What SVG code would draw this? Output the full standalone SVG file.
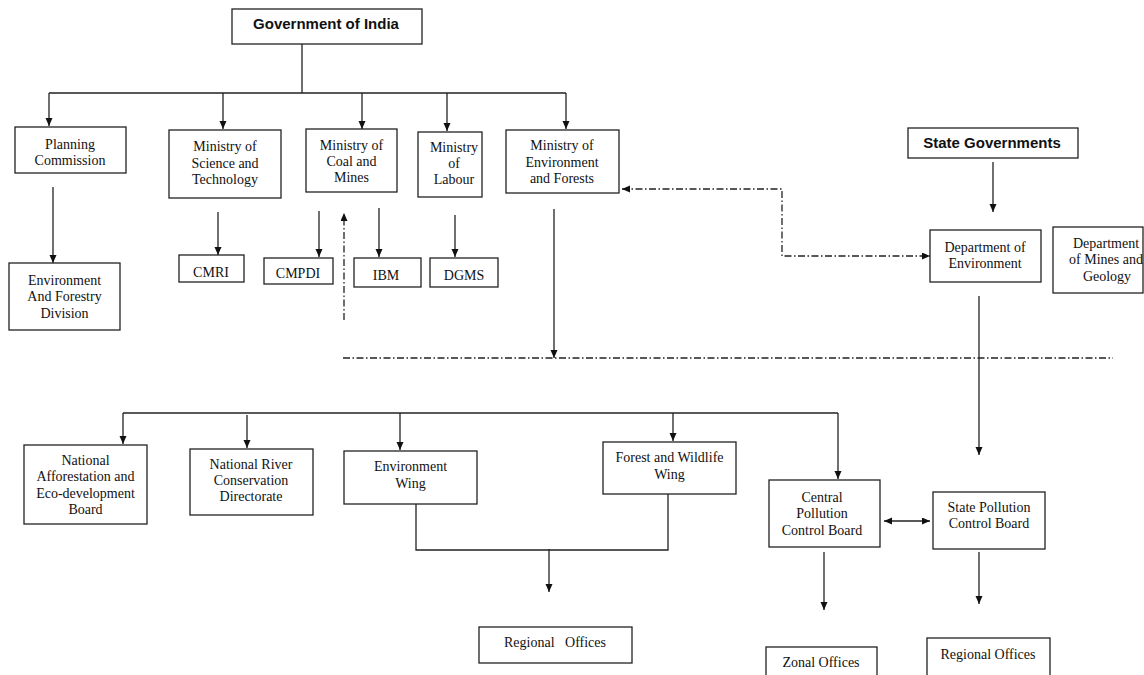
<svg xmlns="http://www.w3.org/2000/svg" width="1144" height="675" viewBox="0 0 1144 675">
<style>
.box{fill:#fff;stroke:#222;stroke-width:1.3}
.t{font-family:"Liberation Serif","Times New Roman",serif;font-size:14px;fill:#111;text-anchor:middle}
.b{font-family:"Liberation Sans",Arial,sans-serif;font-size:15px;font-weight:bold;fill:#111;text-anchor:middle}
.c{fill:none;stroke:#222;stroke-width:1.3}
.a{marker-end:url(#ah)}
.dd{stroke-dasharray:7 2.5 1.5 2.5}
</style>
<defs>
<marker id="ah" markerUnits="userSpaceOnUse" markerWidth="9" markerHeight="8" refX="8" refY="3.5" orient="auto-start-reverse">
<path d="M0,0 L8,3.5 L0,7 z" fill="#111"/>
</marker>
</defs>
<rect width="1144" height="675" fill="#fff"/>
<g id="connectors">
<path class="c" d="M302,44 V93 M49,93 H566"/>
<path class="c a" d="M49,93 V126"/>
<path class="c a" d="M223,93 V129"/>
<path class="c a" d="M362,93 V129"/>
<path class="c a" d="M447,93 V131"/>
<path class="c a" d="M566,93 V129"/>
<path class="c a" d="M53,187 V263"/>
<path class="c a" d="M218,212 V255"/>
<path class="c a" d="M319,211 V257"/>
<path class="c a dd" d="M344,320 V213"/>
<path class="c a" d="M379,208 V257"/>
<path class="c a" d="M455,215 V257"/>
<path class="c a" d="M554,209 V358"/>
<path class="c dd" d="M343,358 H1113"/>
<path class="c a dd" d="M622,189 H782 V256 H930" marker-start="url(#ah)"/>
<path class="c a" d="M993,162 V212"/>
<path class="c a" d="M979,296 V455"/>
<path class="c" d="M123,413 H838"/>
<path class="c a" d="M123,413 V444"/>
<path class="c a" d="M838,413 V479"/>
<path class="c a" d="M247,415 V448"/>
<path class="c a" d="M400,413 V450"/>
<path class="c a" d="M673,413 V441"/>
<path class="c" d="M416,504 V550 H668 V494"/>
<path class="c a" d="M549,549 V592"/>
<path class="c a" d="M824,552 V610"/>
<path class="c a" d="M884,521 H930" marker-start="url(#ah)"/>
<path class="c a" d="M979,552 V604"/>
</g>
<g id="gov-india"><rect class="box" x="232" y="9" width="190" height="35"/><text class="b" x="326" y="28.5">Government of India</text></g>
<g id="planning"><rect class="box" x="15" y="127" width="111" height="46"/><text class="t" x="70" y="149">Planning</text><text class="t" x="70" y="165">Commission</text></g>
<g id="science"><rect class="box" x="169" y="130" width="112" height="68"/><text class="t" x="225" y="151">Ministry of</text><text class="t" x="225" y="168">Science and</text><text class="t" x="225" y="184">Technology</text></g>
<g id="coal"><rect class="box" x="306" y="129" width="91" height="63"/><text class="t" x="351.5" y="150">Ministry of</text><text class="t" x="351.5" y="166">Coal and</text><text class="t" x="351.5" y="182">Mines</text></g>
<g id="labour"><rect class="box" x="418" y="132" width="64" height="65"/><text class="t" x="454" y="152">Ministry</text><text class="t" x="454" y="168">of</text><text class="t" x="454" y="184">Labour</text></g>
<g id="moef"><rect class="box" x="506" y="130" width="113" height="63"/><text class="t" x="562" y="150">Ministry of</text><text class="t" x="562" y="167">Environment</text><text class="t" x="562" y="183">and Forests</text></g>
<g id="efd"><rect class="box" x="9" y="263" width="111" height="67"/><text class="t" x="64.5" y="285">Environment</text><text class="t" x="64.5" y="301">And Forestry</text><text class="t" x="64.5" y="318">Division</text></g>
<g id="cmri"><rect class="box" x="179" y="255" width="65" height="27"/><text class="t" x="211" y="277">CMRI</text></g>
<g id="cmpdi"><rect class="box" x="264" y="258" width="69" height="26"/><text class="t" x="298" y="278">CMPDI</text></g>
<g id="ibm"><rect class="box" x="354" y="258" width="67" height="29"/><text class="t" x="386" y="280">IBM</text></g>
<g id="dgms"><rect class="box" x="430" y="258" width="68" height="29"/><text class="t" x="464" y="280">DGMS</text></g>
<g id="state-gov"><rect class="box" x="908" y="128" width="170" height="30"/><text class="b" x="992" y="148">State Governments</text></g>
<g id="dept-env"><rect class="box" x="930" y="230" width="111" height="52"/><text class="t" x="985" y="252">Department of</text><text class="t" x="985" y="268">Environment</text></g>
<g id="dept-mines"><rect class="box" x="1053" y="227" width="90" height="66"/><text class="t" x="1106" y="248">Department</text><text class="t" x="1106" y="264">of Mines and</text><text class="t" x="1107" y="281">Geology</text></g>
<g id="naeb"><rect class="box" x="24" y="445" width="123" height="79"/><text class="t" x="85.5" y="465">National</text><text class="t" x="85.5" y="481">Afforestation and</text><text class="t" x="85.5" y="498">Eco-development</text><text class="t" x="85.5" y="514">Board</text></g>
<g id="nrcd"><rect class="box" x="190" y="449" width="123" height="66"/><text class="t" x="251" y="469">National River</text><text class="t" x="251" y="485">Conservation</text><text class="t" x="251" y="501">Directorate</text></g>
<g id="env-wing"><rect class="box" x="344" y="451" width="133" height="53"/><text class="t" x="410.5" y="471">Environment</text><text class="t" x="410.5" y="488">Wing</text></g>
<g id="forest-wing"><rect class="box" x="603" y="442" width="133" height="52"/><text class="t" x="669.5" y="462">Forest and Wildlife</text><text class="t" x="669.5" y="479">Wing</text></g>
<g id="cpcb"><rect class="box" x="769" y="480" width="111" height="67"/><text class="t" x="822" y="502">Central</text><text class="t" x="822" y="518">Pollution</text><text class="t" x="822" y="535">Control Board</text></g>
<g id="spcb"><rect class="box" x="933" y="492" width="112" height="57"/><text class="t" x="989" y="512">State Pollution</text><text class="t" x="989" y="528">Control Board</text></g>
<g id="regional-central"><rect class="box" x="479" y="627" width="153" height="36"/><text class="t" x="555" y="647" xml:space="preserve">Regional   Offices</text></g>
<g id="zonal"><rect class="box" x="766" y="647" width="111" height="32"/><text class="t" x="821" y="667">Zonal Offices</text></g>
<g id="regional-state"><rect class="box" x="927" y="638" width="123" height="40"/><text class="t" x="988" y="659">Regional Offices</text></g>
</svg>
